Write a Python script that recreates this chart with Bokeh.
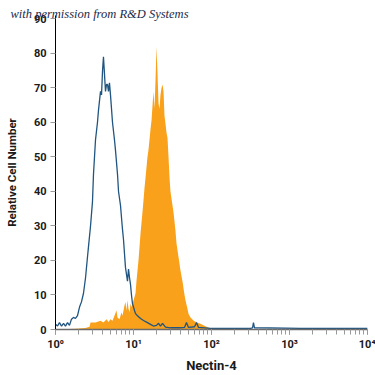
from bokeh.plotting import figure
from bokeh.models import FixedTicker, LogTicker, Title
from bokeh.embed import file_html
from bokeh.resources import INLINE
import numpy as np

# log10 of fluorescence intensity, and relative cell counts (isotype control, blue outline)
blue_log10 = [0.000, 0.026, 0.051, 0.077, 0.103, 0.128, 0.154, 0.179, 0.205, 0.231, 0.256, 0.282,
              0.308, 0.333, 0.359, 0.385, 0.410, 0.423, 0.449, 0.474, 0.487, 0.513, 0.538, 0.551,
              0.577, 0.590, 0.603, 0.615, 0.628, 0.641, 0.654, 0.667, 0.679, 0.692, 0.705, 0.731,
              0.756, 0.769, 0.795, 0.808, 0.833, 0.859, 0.872, 0.897, 0.910, 0.923, 0.936, 0.949,
              0.962, 0.974, 0.987, 1.013, 1.026, 1.051, 1.090, 1.128, 1.179, 1.218, 1.256, 1.295,
              1.321, 1.346, 1.372, 1.410, 1.474, 1.603, 1.654, 1.679, 1.705, 1.782, 1.808, 1.833,
              1.987, 2.500, 2.526, 2.538, 2.551, 3.141, 4.000]
blue_count = [1.5, 1.0, 2.0, 1.0, 1.8, 1.0, 2.0, 1.2, 3.0, 3.5, 3.2, 4.0,
              6.5, 8.0, 10.5, 15, 21, 24, 30, 37, 45, 55, 60, 63.5,
              69, 68, 75, 79, 74, 69, 71, 71, 69, 71.5, 68, 60,
              55, 52, 45, 40, 36, 29, 26, 18, 16, 14, 17.5, 15,
              13, 10, 7.5, 5.5, 4.6, 4.0, 3.2, 2.6, 2.0, 1.5, 1.0, 1.2,
              1.8, 1.0, 1.8, 0.7, 0.5, 0.5, 0.6, 2.0, 0.6, 0.8, 2.0, 0.6,
              0.3, 0.3, 0.5, 2.0, 0.5, 0.3, 0.3]

# Nectin-4 stained cells (orange filled)
orange_log10 = [0.000, 0.256, 0.385, 0.436, 0.449, 0.513, 0.577, 0.615, 0.654, 0.679, 0.705, 0.731,
                0.756, 0.782, 0.795, 0.821, 0.846, 0.859, 0.885, 0.897, 0.910, 0.923, 0.936, 0.949,
                0.962, 0.974, 1.000, 1.026, 1.038, 1.064, 1.090, 1.115, 1.128, 1.141, 1.154, 1.179,
                1.192, 1.205, 1.218, 1.231, 1.244, 1.256, 1.269, 1.282, 1.295, 1.308, 1.321, 1.333,
                1.346, 1.359, 1.372, 1.385, 1.397, 1.410, 1.423, 1.436, 1.449, 1.462, 1.474, 1.487,
                1.513, 1.538, 1.551, 1.577, 1.603, 1.628, 1.654, 1.667, 1.692, 1.705, 1.731, 1.769,
                1.808, 1.859, 1.897, 1.936, 1.974, 2.013, 2.115, 4.000]
orange_count = [0, 0.2, 0.4, 0.8, 2.0, 2.0, 2.5, 2.0, 3.0, 2.2, 3.0, 2.5,
                4.0, 5.5, 3.5, 3.0, 5.0, 4.0, 7.0, 8.0, 5.5, 8.5, 6.0, 5.0,
                7.5, 6.5, 8.4, 10.5, 14, 20, 27.8, 34, 37.4, 41, 44, 50,
                52, 55, 58, 60.6, 65, 69, 64, 72, 82, 74, 65.5, 64,
                68, 70, 71, 69, 62, 59.7, 57, 55.6, 50, 44, 40, 38,
                34, 28.7, 25, 21, 17, 14, 10, 8.4, 6, 4.6, 3.5, 2.6,
                2.0, 1.7, 1.2, 0.8, 0.4, 0.2, 0, 0]

y_ticks = [0, 10, 20, 30, 40, 50, 60, 70, 80, 90]
x_tick_labels = {1: "10⁰", 10: "10¹", 100: "10²", 1000: "10³", 10000: "10⁴"}

blue_x = 10 ** np.array(blue_log10)
orange_x = 10 ** np.array(orange_log10)

FONT = "Roboto"
TEXT = "#1a1a1a"

p = figure(width=375, height=375, x_axis_type="log", x_range=(1, 10000), y_range=(0, 91),
           output_backend="svg", toolbar_location=None,
           min_border_left=55, min_border_right=8, min_border_top=15, min_border_bottom=46)
p.outline_line_color = None
p.grid.visible = False
p.background_fill_color = "white"

p.varea(x=orange_x, y1=0, y2=orange_count, fill_color="#f9a11b", fill_alpha=1.0)
p.line(x=blue_x, y=blue_count, line_color="#1f5580", line_width=1.3)

xa = p.xaxis[0]
xa.ticker = LogTicker(num_minor_ticks=10)
xa.major_label_overrides = x_tick_labels
xa.axis_label = "Nectin-4"
xa.axis_label_text_font = FONT
xa.axis_label_text_font_style = "bold"
xa.axis_label_text_font_size = "13px"
xa.axis_label_text_color = TEXT
xa.axis_label_standoff = 4
xa.major_label_standoff = 3
xa.major_label_text_font = FONT
xa.major_label_text_font_style = "bold"
xa.major_label_text_font_size = "11px"
xa.major_label_text_color = TEXT
xa.axis_line_color = "#6b6b6b"
xa.axis_line_width = 1.5
xa.major_tick_line_color = "#999999"
xa.minor_tick_line_color = "#999999"
xa.major_tick_in = 0
xa.major_tick_out = 5
xa.minor_tick_in = 0
xa.minor_tick_out = 5

ya = p.yaxis[0]
ya.ticker = FixedTicker(ticks=y_ticks)
ya.axis_label = "Relative Cell Number"
ya.axis_label_text_font = FONT
ya.axis_label_text_font_style = "bold"
ya.axis_label_text_font_size = "11.5px"
ya.axis_label_text_color = TEXT
ya.axis_label_standoff = 12
ya.major_label_standoff = 4
ya.major_label_text_font = FONT
ya.major_label_text_font_style = "bold"
ya.major_label_text_font_size = "11px"
ya.major_label_text_color = TEXT
ya.axis_line_color = "black"
ya.major_tick_line_color = "#999999"
ya.major_tick_in = 0
ya.major_tick_out = 5
ya.minor_tick_line_color = None

wm = Title(text="with permission from R&D Systems", align="left", offset=-45, standoff=-11,
           text_font="Liberation Serif", text_font_style="italic", text_font_size="12.5px",
           text_color="#1c2a4a")
p.add_layout(wm, "above")

open("out.html", "w").write(file_html(p, INLINE))
